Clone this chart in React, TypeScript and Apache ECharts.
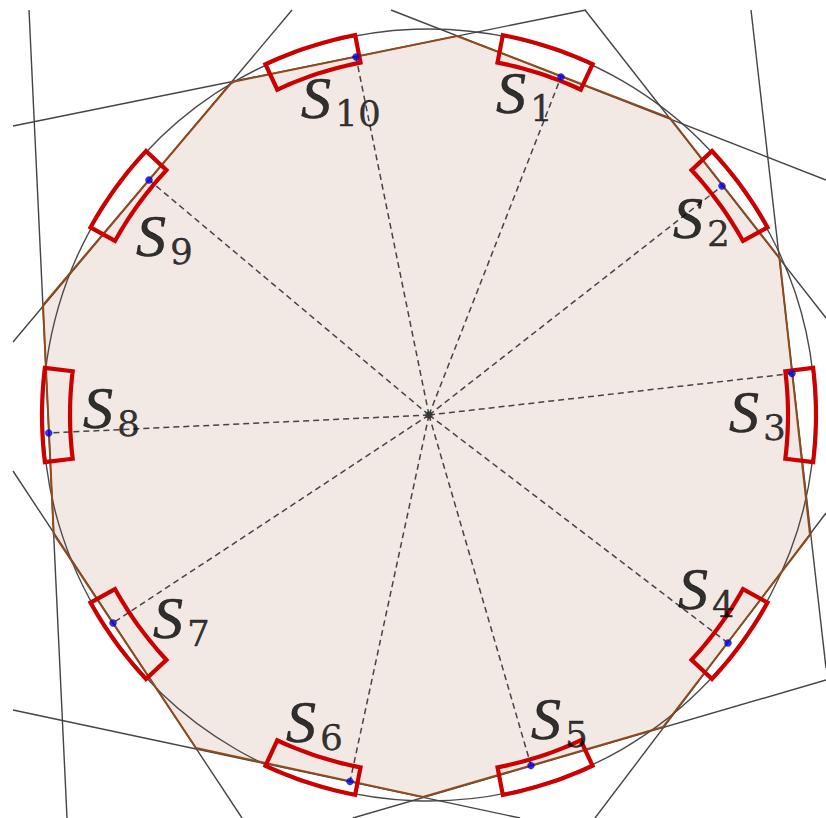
import React, { useEffect, useRef } from "react";
import * as echarts from "echarts";

const WIDTH = 826;
const HEIGHT = 818;

const centre = [429, 415];
const circleRadius = 386;

// Polygon corners (brown outline, tinted fill)
const polygonCorners = [
  [457, 36], [670, 118], [779.5, 258], [810, 535], [663, 727],
  [423, 797], [196, 748], [53.7, 534], [43, 305], [232, 82],
];

// Thin dark lines that carry the polygon edges
const tangentLines = [
  [391, 10, 826, 180],
  [585, 10, 826, 318],
  [751, 10, 826, 668],
  [826, 513, 595, 818],
  [826, 680, 353, 818],
  [13, 710, 520, 818],
  [13, 471, 242, 818],
  [29, 10, 67, 818],
  [292, 10, 13, 342],
  [13, 126, 586, 10],
];

// Blue measurement points, S1 to S10
const sensorPoints = [
  [561, 77], [722, 186], [792, 373.5], [728, 643], [531, 765.5],
  [350, 781.5], [113, 623], [48.7, 433], [149, 180], [356, 57],
];

// Annular sensor blocks, angle in degrees
const blockAngles = [72, 36, 0, -36, -72, -108, -144, 180, 144, 108];
const blockHalfWidth = 7;
const blockInner = 359;
const blockOuter = 387;

// Label anchors: S left edge and baseline
const labelAnchors = [
  [496, 112], [673, 237], [729, 431], [678, 608], [531, 738],
  [286, 741], [153, 637], [83, 427], [136, 255], [301, 117],
];
const labelIndices = ["1", "2", "3", "4", "5", "6", "7", "8", "9", "10"];

function blockPoints(api: any, angle: number) {
  const pts: number[][] = [];
  const steps = 14;
  for (let i = 0; i <= steps; i++) {
    const a = ((angle - blockHalfWidth + (2 * blockHalfWidth * i) / steps) * Math.PI) / 180;
    pts.push(api.coord([centre[0] + blockOuter * Math.cos(a), centre[1] - blockOuter * Math.sin(a)]));
  }
  for (let i = steps; i >= 0; i--) {
    const a = ((angle - blockHalfWidth + (2 * blockHalfWidth * i) / steps) * Math.PI) / 180;
    pts.push(api.coord([centre[0] + blockInner * Math.cos(a), centre[1] - blockInner * Math.sin(a)]));
  }
  return pts;
}

export default function App() {
  const ref = useRef<HTMLDivElement>(null);

  useEffect(() => {
    if (!ref.current) return;
    const chart = echarts.init(ref.current, undefined, { renderer: "svg" });
    chart.setOption({
      animation: false,
      backgroundColor: "#ffffff",
      grid: { left: 0, right: 0, top: 0, bottom: 0 },
      xAxis: { type: "value", min: 0, max: WIDTH, show: false },
      yAxis: { type: "value", min: 0, max: HEIGHT, inverse: true, show: false },
      series: [
        {
          type: "custom",
          silent: true,
          clip: false,
          data: [[0, 0]],
          z: 1,
          renderItem: (_: any, api: any) => ({
            type: "polygon",
            shape: { points: polygonCorners.map((p) => api.coord(p)) },
            style: { fill: "#f3e9e4", stroke: "none" },
          }),
        },
        {
          type: "custom",
          silent: true,
          clip: false,
          data: [[0, 0]],
          z: 2,
          renderItem: (_: any, api: any) => {
            const c = api.coord(centre);
            return {
              type: "circle",
              shape: { cx: c[0], cy: c[1], r: api.size([circleRadius, 0])[0] },
              style: { fill: "none", stroke: "#4a4a4a", lineWidth: 1.4 },
            };
          },
        },
        {
          type: "custom",
          silent: true,
          clip: false,
          data: tangentLines,
          z: 3,
          renderItem: (_: any, api: any) => {
            const a = api.coord([api.value(0), api.value(1)]);
            const b = api.coord([api.value(2), api.value(3)]);
            return {
              type: "line",
              shape: { x1: a[0], y1: a[1], x2: b[0], y2: b[1] },
              style: { stroke: "#444444", lineWidth: 1.4 },
            };
          },
        },
        {
          type: "custom",
          silent: true,
          clip: false,
          data: [[0, 0]],
          z: 4,
          renderItem: (_: any, api: any) => ({
            type: "polygon",
            shape: { points: polygonCorners.map((p) => api.coord(p)) },
            style: { fill: "none", stroke: "#8f4a1f", lineWidth: 2 },
          }),
        },
        {
          type: "custom",
          silent: true,
          clip: false,
          data: sensorPoints,
          z: 5,
          renderItem: (_: any, api: any) => {
            const a = api.coord(centre);
            const b = api.coord([api.value(0), api.value(1)]);
            return {
              type: "line",
              shape: { x1: a[0], y1: a[1], x2: b[0], y2: b[1] },
              style: { stroke: "#444444", lineWidth: 1.5, lineDash: [6, 4] },
            };
          },
        },
        {
          type: "custom",
          silent: true,
          clip: false,
          data: blockAngles.map((a) => [a]),
          z: 6,
          renderItem: (_: any, api: any) => ({
            type: "polygon",
            shape: { points: blockPoints(api, api.value(0)) },
            style: { fill: "none", stroke: "#cc0000", lineWidth: 4.2, lineJoin: "miter" },
          }),
        },
        {
          type: "scatter",
          silent: true,
          data: sensorPoints,
          symbol: "circle",
          symbolSize: 7,
          itemStyle: { color: "#0000f0", borderColor: "#14145a", borderWidth: 0.5 },
          z: 7,
        },
        {
          type: "scatter",
          silent: true,
          data: [centre],
          symbol: "circle",
          symbolSize: 7.5,
          itemStyle: { color: "#333333" },
          z: 7,
        },
        {
          type: "scatter",
          silent: true,
          symbolSize: 0,
          z: 8,
          data: labelAnchors,
          label: {
            show: true,
            position: [0, -52],
            align: "left",
            verticalAlign: "top",
            formatter: (p: any) => `{s|S}{n|${labelIndices[p.dataIndex]}}`,
            rich: {
              s: {
                fontFamily: "Liberation Serif",
                fontStyle: "italic",
                fontSize: 60,
                color: "#000000",
                textBorderColor: "#000000",
                textBorderWidth: 0.6,
                padding: [0, 4, 0, 0],
              },
              n: {
                fontFamily: "DejaVu Serif",
                fontSize: 36,
                color: "#000000",
                textBorderColor: "#000000",
                textBorderWidth: 0.3,
                padding: [30, 0, 0, 0],
              },
            },
          },
        },
      ],
    });
    return () => chart.dispose();
  }, []);

  return (
    <div
      ref={ref}
      style={{ position: "fixed", left: 0, top: 0, width: WIDTH, height: HEIGHT }}
    />
  );
}
